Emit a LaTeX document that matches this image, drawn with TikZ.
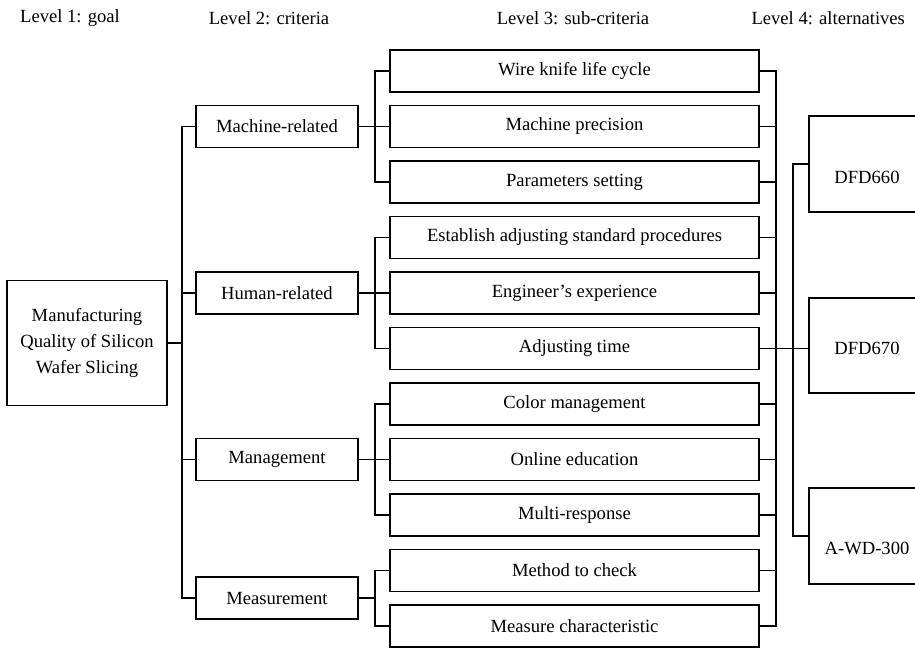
\documentclass[tikz,border=0pt]{standalone}
\usepackage{fontspec}
\setmainfont{Liberation Serif}

\tikzset{
  box/.style={draw, line width=0.8pt, minimum height=21pt, inner sep=0pt,
    align=center, font=\fontsize{9.3}{13}\selectfont},
  plain text/.style={font=\fontsize{9.3}{13}\selectfont},
  link/.style={line width=0.8pt}
}

\begin{document}
\begin{tikzpicture}[x=0.5pt, y=-0.5pt]

    \useasboundingbox (0,0) rectangle (915,648);
    \clip (0,0) rectangle (915,648);

    \coordinate (goal trunk)  at (182,0);
    \coordinate (sub trunk)   at (375,0);
    \coordinate (right trunk) at (776,0);
    \coordinate (alt trunk)   at (793,0);

    \node[plain text] (level 1) at (70,18)  {Level 1: goal};
    \node[plain text] (level 2) at (269,18) {Level 2: criteria};
    \node[plain text] (level 3) at (573,18) {Level 3: sub-criteria};
    \node[plain text, anchor=east] (level 4) at (912,18) {Level 4: alternatives};

    \node[box, minimum width=80pt, minimum height=62.5pt] (goal) at (87,343)
      {Manufacturing\\Quality of Silicon\\Wafer Slicing};

    \node[box, minimum width=81pt] (crit 1) at (277,126.5) {Machine-related};
    \node[box, minimum width=81pt] (crit 2) at (277,293)   {Human-related};
    \node[box, minimum width=81pt] (crit 3) at (277,459.5) {Management};
    \node[box, minimum width=81pt] (crit 4) at (277,598.25) {Measurement};

    \foreach \t [count=\i] in {Wire knife life cycle, Machine precision,
      Parameters setting, Establish adjusting standard procedures,
      Engineer’s experience, Adjusting time, Color management,
      Online education, Multi-response, Method to check,
      Measure characteristic}
    \node[box, minimum width=184.5pt] (sub \i) at (574.5,{71+55.5*(\i-1)}) {\t};

    \node[box, minimum width=65.5pt, minimum height=48pt]   (alt 1) at (874.5,164)   {};
    \node[box, minimum width=65.5pt, minimum height=47.5pt] (alt 2) at (874.5,345.5) {};
    \node[box, minimum width=65.5pt, minimum height=48pt]   (alt 3) at (874.5,536)   {};
    \node[plain text] (alt 1 name) at (867,177) {DFD660};
    \node[plain text] (alt 2 name) at (867,348) {DFD670};
    \node[plain text] (alt 3 name) at (867,548) {A-WD-300};

    \draw[link] (goal.east) -- (goal.east -| goal trunk);
    \draw[link] (crit 1.west) -| (goal trunk |- crit 4) -- (crit 4.west);
    \draw[link] (crit 2.west) -- (crit 2.west -| goal trunk);
    \draw[link] (crit 3.west) -- (crit 3.west -| goal trunk);

    \draw[link] (sub 1.west) -| (sub trunk |- sub 3) -- (sub 3.west);
    \draw[link] (sub 4.west) -| (sub trunk |- sub 6) -- (sub 6.west);
    \draw[link] (sub 7.west) -| (sub trunk |- sub 9) -- (sub 9.west);
    \draw[link] (sub 10.west) -| (sub trunk |- sub 11) -- (sub 11.west);
    \draw[link] (crit 1.east) -- (sub 2.west);
    \draw[link] (crit 2.east) -- (sub 5.west);
    \draw[link] (crit 3.east) -- (sub 8.west);
    \draw[link] (crit 4.east) -- (crit 4.east -| sub trunk);

    \draw[link] (sub 1.east) -| (right trunk |- sub 11) -- (sub 11.east);
    \foreach \i in {2,...,10}
    \draw[link] (sub \i.east) -- (sub \i.east -| right trunk);
    \draw[link] (sub 6.east) -- (sub 6.east -| alt 2.west);

    \draw[link] (alt 1.west) -| (alt trunk |- alt 3) -- (alt 3.west);

\end{tikzpicture}
\end{document}
